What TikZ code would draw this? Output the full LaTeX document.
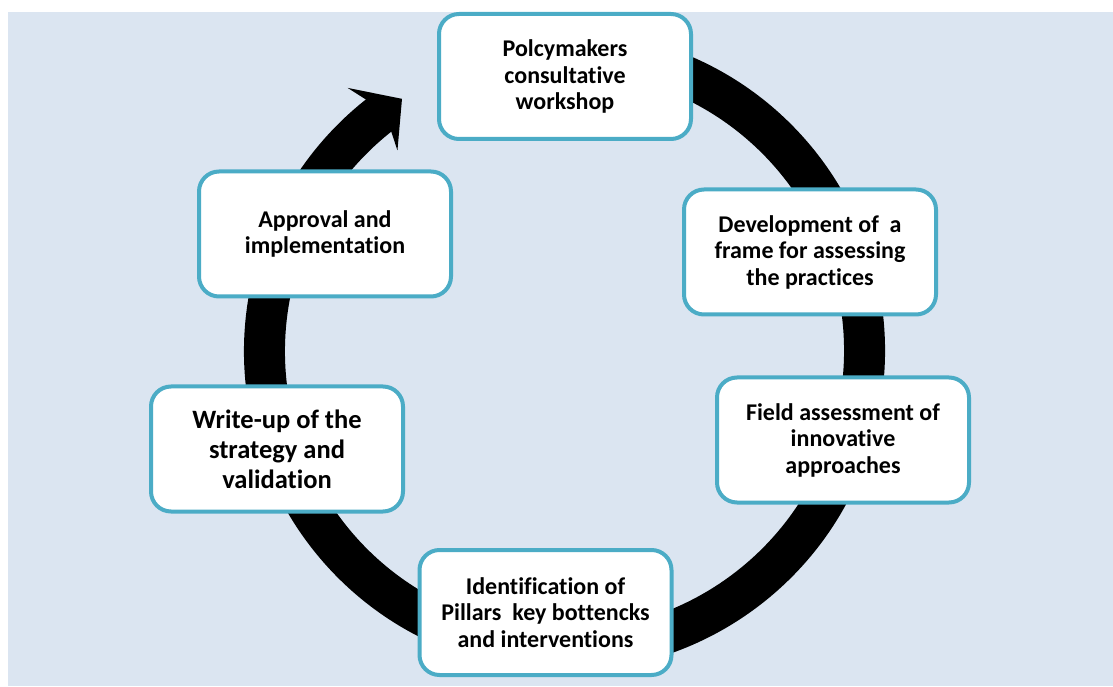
\documentclass[tikz,border=0pt]{standalone}
\usepackage{fontspec}
\setmainfont{Carlito}[Ligatures=NoCommon]
\definecolor{bgblue}{RGB}{219,229,241}
\definecolor{boxline}{RGB}{75,172,198}
\tikzset{
  stepbox/.style={draw=boxline, line width=4pt, fill=white, rounded corners=20pt,
    minimum width=252pt, minimum height=125pt, align=center, inner sep=0pt,
    font=\bfseries\fontsize{24}{26.5}\selectfont},
  bigtext/.style={font=\bfseries\fontsize{26.5}{30}\selectfont},
  ring/.style={line width=41pt, black}
}
\begin{document}
\begin{tikzpicture}[x=1pt,y=1pt]
\useasboundingbox (0,0) rectangle (1113,686);
\fill[bgblue] (8,0) rectangle (1113,674);
\coordinate (c) at (564.5,335);
\draw[ring] (c) ++(80:300) arc[start angle=80,end angle=-231.9,radius=300];
\begin{scope}[shift={(c)}]
\fill[black] (122.8:300) -- (129.5:341) -- (128.3:320.5) -- (128.3:279.5) -- (129.8:261) -- cycle;
\end{scope}
\node[stepbox] (n1) at (565,609.5) {Polcymakers\\consultative\\workshop};
\node[stepbox] (n2) at (810,434) {Development of~ a\\frame for assessing\\the practices};
\node[stepbox] (n3) at (843,246) {Field assessment of\\innovative\\approaches};
\node[stepbox] (n4) at (545.5,73.5) {Identification of\\Pillars~ key bottencks\\and interventions};
\node[stepbox, bigtext] (n5) at (277,237) {Write-up of the\\strategy and\\validation};
\node[stepbox] (n6) at (325,452) {Approval and\\implementation};
\end{tikzpicture}
\end{document}
